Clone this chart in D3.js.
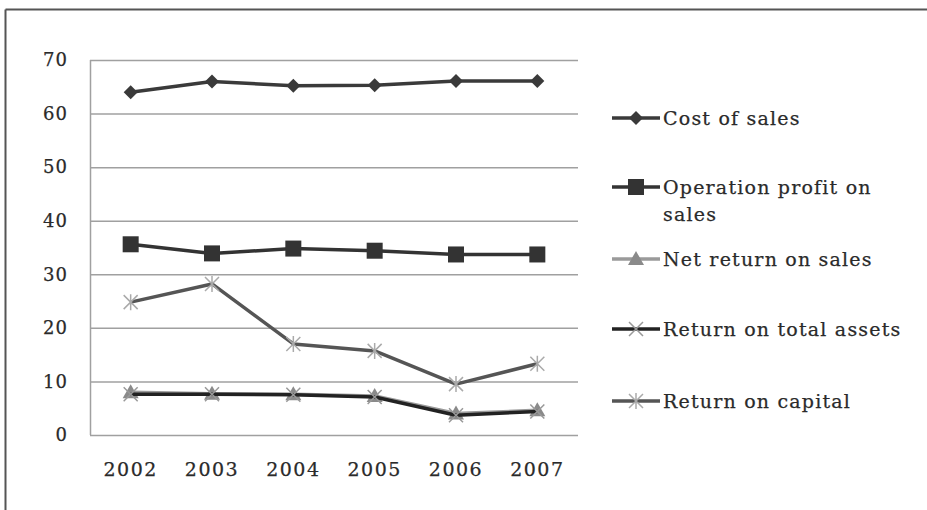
<!DOCTYPE html>
<html>
<head>
<meta charset="utf-8">
<script src="https://cdn.jsdelivr.net/npm/d3@7"></script>
<style>
  html, body { margin: 0; padding: 0; background: #fff; }
  svg { display: block; }
  text { font-family: "DejaVu Serif", "Liberation Serif", serif; fill: #2a2a2a; stroke: #2a2a2a; stroke-width: 0.25px; }
</style>
</head>
<body>
<svg id="chart" width="927" height="510"></svg>
<script>
// Financial ratios by year (%)
const years = ["2002", "2003", "2004", "2005", "2006", "2007"];
const costOfSales = [64.0, 66.0, 65.2, 65.3, 66.1, 66.1];
const operationProfit = [35.6, 33.9, 34.8, 34.4, 33.7, 33.7];
const netReturn = [8.0, 7.7, 7.6, 7.3, 4.0, 4.6];
const returnOnAssets = [7.6, 7.6, 7.5, 7.1, 3.7, 4.4];
const returnOnCapital = [24.8, 28.2, 17.0, 15.7, 9.5, 13.3];
const yTicks = [0, 10, 20, 30, 40, 50, 60, 70];

const series = [
  { name: ["Cost of sales"], values: costOfSales, line: "#3a3a3a", marker: "diamond", fill: "#3a3a3a" },
  { name: ["Operation profit on", "sales"], values: operationProfit, line: "#333", marker: "square", fill: "#333" },
  { name: ["Net return on sales"], values: netReturn, line: "#9a9a9a", marker: "triangle", fill: "#8a8a8a" },
  { name: ["Return on total assets"], values: returnOnAssets, line: "#222", marker: "x", fill: "#999" },
  { name: ["Return on capital"], values: returnOnCapital, line: "#555", marker: "star", fill: "#aaa" }
];

const svg = d3.select("#chart");

// outer frame (top and left edges)
svg.append("line").attr("x1", 5.5).attr("x2", 927).attr("y1", 9.5).attr("y2", 9.5)
  .attr("stroke", "#555").attr("stroke-width", 2);
svg.append("line").attr("x1", 5.5).attr("x2", 5.5).attr("y1", 9.5).attr("y2", 510)
  .attr("stroke", "#555").attr("stroke-width", 2);

const plot = { left: 90, right: 578, top: 60, bottom: 435 };

const x = d3.scaleBand().domain(years).range([plot.left, plot.right]);
const y = d3.scaleLinear().domain([0, 70]).range([plot.bottom, plot.top]);

// horizontal gridlines
svg.append("g").selectAll("line").data(yTicks).join("line")
  .attr("x1", plot.left).attr("x2", plot.right)
  .attr("y1", d => y(d) + 0.5).attr("y2", d => y(d) + 0.5)
  .attr("stroke", "#a0a0a0").attr("stroke-width", 1.5);

// left axis line
svg.append("line").attr("x1", plot.left + 0.5).attr("x2", plot.left + 0.5)
  .attr("y1", plot.top).attr("y2", plot.bottom)
  .attr("stroke", "#a0a0a0").attr("stroke-width", 1.5);

const labelFont = "\"DejaVu Serif\", serif";

// y axis labels
const yAxis = d3.axisLeft(y).tickValues(yTicks).tickSize(0).tickPadding(22);
const gy = svg.append("g").attr("transform", `translate(${plot.left},0)`).call(yAxis);
gy.select(".domain").remove();
gy.selectAll("text").style("font-size", "18px").style("letter-spacing", "1px")
  .attr("fill", "#2a2a2a").style("font-family", labelFont);

// x axis labels
const xAxis = d3.axisBottom(x).tickSize(0).tickPadding(28);
const gx = svg.append("g").attr("transform", `translate(0,${plot.bottom})`).call(xAxis);
gx.select(".domain").remove();
gx.selectAll("text").style("font-size", "19px").style("letter-spacing", "1.5px")
  .attr("fill", "#2a2a2a").style("font-family", labelFont);

const cx = d => x(d) + x.bandwidth() / 2;

function drawMarker(g, type, px, py, fill) {
  if (type === "diamond") {
    g.append("path").attr("d", `M${px},${py - 7}L${px + 7},${py}L${px},${py + 7}L${px - 7},${py}Z`)
      .attr("fill", fill);
  } else if (type === "square") {
    g.append("rect").attr("x", px - 8).attr("y", py - 8).attr("width", 16).attr("height", 16)
      .attr("fill", fill);
  } else if (type === "triangle") {
    g.append("path").attr("d", `M${px},${py - 8}L${px + 8},${py + 6}L${px - 8},${py + 6}Z`)
      .attr("fill", fill);
  } else if (type === "x") {
    g.append("path").attr("d", `M${px - 7},${py - 7}L${px + 7},${py + 7}M${px + 7},${py - 7}L${px - 7},${py + 7}`)
      .attr("stroke", fill).attr("stroke-width", 1.5).attr("fill", "none");
  } else if (type === "star") {
    g.append("path").attr("d",
      `M${px - 7},${py - 7}L${px + 7},${py + 7}M${px + 7},${py - 7}L${px - 7},${py + 7}M${px},${py - 8}L${px},${py + 8}`)
      .attr("stroke", fill).attr("stroke-width", 1.5).attr("fill", "none");
  }
}

const lineGen = d3.line().x((d, i) => cx(years[i])).y(d => y(d));

// draw from back to front so the cost / profit lines sit on top
const order = [4, 2, 3, 1, 0];
order.forEach(si => {
  const s = series[si];
  const g = svg.append("g");
  g.append("path").datum(s.values).attr("d", lineGen)
    .attr("fill", "none").attr("stroke", s.line).attr("stroke-width", 3.5)
    .attr("stroke-linejoin", "round");
  s.values.forEach((v, i) => drawMarker(g, s.marker, cx(years[i]), y(v), s.fill));
});

// legend
const legendY = [118, 187, 259, 329, 401];
series.forEach((s, i) => {
  const g = svg.append("g");
  const ly = legendY[i];
  g.append("line").attr("x1", 612).attr("x2", 660).attr("y1", ly).attr("y2", ly)
    .attr("stroke", s.line).attr("stroke-width", 3.5);
  drawMarker(g, s.marker, 636, ly, s.fill);
  s.name.forEach((t, k) => {
    g.append("text").attr("x", 663).attr("y", ly + 7 + k * 27)
      .style("font-size", "19px").style("letter-spacing", "1.2px").text(t);
  });
});
</script>
</body>
</html>
